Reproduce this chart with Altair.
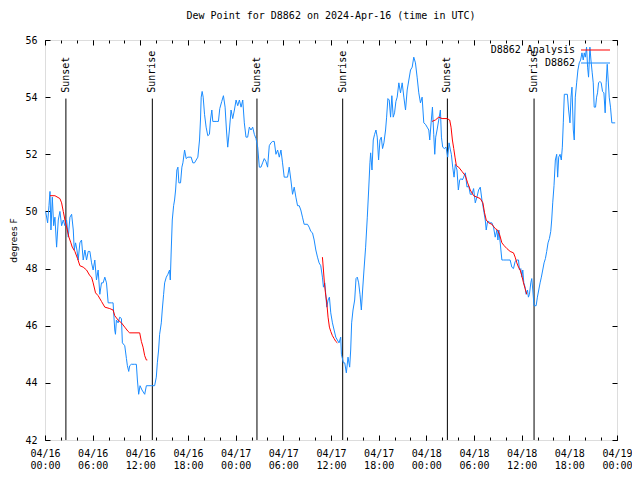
import altair as alt
import pandas as pd

# ---- data (hours since 2024-04-16 00:00 UTC) ----
blue_h = [0.08, 0.33, 0.50, 0.63, 0.75, 0.92, 1.09, 1.25, 1.46, 1.67, 1.88, 2.09, 2.30, 2.51, 2.72,
          2.93, 3.14, 3.35, 3.56, 3.68, 3.85, 4.02, 4.18, 4.39, 4.60, 4.81, 5.02, 5.23, 5.44, 5.65,
          5.86, 6.06, 6.27, 6.48, 6.69, 6.90, 7.11, 7.32, 7.53, 7.74, 7.95, 8.36, 8.57, 8.78, 8.87,
          8.99, 9.20, 9.41, 9.62, 9.74, 10.04, 10.25, 10.37, 10.54, 10.66, 10.87, 11.29, 11.50, 11.63,
          11.79, 11.96, 12.21, 12.55, 12.76, 12.97, 13.38, 13.80, 14.01, 14.14, 14.30, 14.43, 14.64,
          14.76, 14.93, 15.06, 15.27, 15.47, 15.68, 15.77, 15.89, 16.02, 16.19, 16.31, 16.44, 16.60,
          16.73, 16.85, 17.06, 17.23, 17.36, 17.57, 17.77, 17.98, 18.40, 18.61, 18.82, 19.03, 19.24,
          19.45, 19.57, 19.66, 19.78, 19.91, 20.08, 20.28, 20.49, 20.70, 20.83, 21.00, 21.12, 21.54,
          21.83, 22.00, 22.25, 22.46, 22.67, 22.84, 23.00, 23.21, 23.42, 23.63, 23.84, 24.05, 24.26,
          24.47, 24.68, 24.89, 25.09, 25.30, 25.51, 25.72, 25.93, 26.14, 26.35, 26.56, 26.77, 26.98,
          27.19, 27.39, 27.60, 27.81, 28.02, 28.23, 28.44, 28.65, 28.86, 29.07, 29.28, 29.49, 29.70,
          29.90, 30.11, 30.53, 30.74, 30.95, 31.16, 31.37, 31.58, 31.79, 32.00, 32.20, 32.41, 32.62,
          33.04, 33.25, 33.46, 33.67, 33.88, 34.09, 34.30, 34.50, 34.71, 34.92, 35.05, 35.22, 35.34,
          35.47, 35.63, 35.80, 35.97, 36.18, 36.39, 36.60, 36.80, 37.01, 37.22, 37.31, 37.56, 37.73,
          37.93, 38.14, 38.35, 38.48, 38.60, 38.77, 38.98, 39.15, 39.31, 39.48, 39.65, 39.82, 39.98,
          40.15, 40.36, 40.57, 40.74, 40.90, 40.99, 41.16, 41.32, 41.49, 41.66, 41.82, 41.99, 42.16,
          42.33, 42.49, 42.66, 42.87, 43.00, 43.16, 43.33, 43.50, 43.66, 43.83, 44.00, 44.17, 44.33,
          44.54, 44.75, 44.96, 45.17, 45.38, 45.59, 45.80, 46.01, 46.22, 46.42, 46.63, 46.84, 47.05,
          47.26, 47.47, 47.68, 47.89, 48.10, 48.31, 48.43, 48.60, 48.77, 48.93, 49.06, 49.18, 49.35,
          49.56, 49.77, 49.90, 50.06, 50.27, 50.48, 50.69, 50.86, 51.03, 51.15, 51.32, 51.49, 51.65,
          51.86, 52.03, 52.20, 52.36, 52.53, 52.70, 52.91, 53.12, 53.33, 53.53, 53.74, 53.95, 54.16,
          54.37, 54.58, 54.79, 55.00, 55.21, 55.42, 55.54, 55.71, 55.88, 56.04, 56.25, 56.46, 56.67,
          56.88, 57.01, 57.13, 57.30, 57.51, 57.72, 58.14, 58.55, 58.76, 58.97, 59.18, 59.39, 59.60,
          59.72, 59.89, 60.02, 60.14, 60.27, 60.43, 60.56, 60.73, 60.85, 60.98, 61.15, 61.27, 61.40,
          61.56, 61.82, 61.98, 62.15, 62.32, 62.48, 62.65, 62.82, 62.99, 63.15, 63.32, 63.49, 63.66,
          63.78, 63.91, 64.07, 64.24, 64.41, 64.53, 64.66, 64.83, 64.99, 65.12, 65.24, 65.37, 65.58,
          65.75, 65.91, 66.08, 66.21, 66.33, 66.50, 66.62, 66.75, 66.92, 67.08, 67.25, 67.42, 67.59,
          67.75, 67.88, 68.01, 68.17, 68.30, 68.42, 68.59, 68.72, 68.88, 69.01, 69.13, 69.30, 69.43,
          69.55, 69.68, 69.85, 70.01, 70.18, 70.35, 70.51, 70.64, 70.77, 70.89, 71.02, 71.18, 71.35,
          71.77]
blue_v = [50.0, 49.6, 50.2, 50.7, 49.35, 50.5, 49.5, 49.8, 48.75, 49.7, 50.0, 49.5, 49.7, 49.5, 49.7,
          49.1, 49.8, 49.9, 49.35, 48.65, 48.9, 48.65, 48.3, 48.9, 49.0, 48.3, 48.65, 48.3, 48.6, 48.6,
          48.2, 47.95, 48.3, 47.6, 47.95, 47.1, 47.5, 47.5, 47.7, 47.5, 46.8, 46.8, 46.8, 45.85, 45.7,
          46.2, 46.1, 46.3, 46.25, 45.4, 45.3, 44.85, 44.6, 44.4, 44.6, 44.65, 44.65, 44.65, 44.1,
          43.6, 43.9, 43.75, 43.6, 43.9, 43.9, 43.9, 43.9, 44.2, 44.7, 45.15, 45.7, 46.1,
          46.55, 47.1, 47.5, 47.7, 47.8, 47.95, 47.6, 48.65, 49.7, 50.2, 50.4, 50.75, 51.45,
          51.55, 51.0, 51.0, 51.55, 51.7, 52.15, 51.85, 51.9, 51.9, 51.7, 51.7, 51.8, 51.9,
          52.5, 53.2, 54.0, 54.2, 54.0, 53.4, 52.95, 52.65, 52.7, 53.2, 53.55, 53.15, 53.15,
          53.15, 53.6, 53.85, 54.05, 53.65, 52.85, 52.25, 52.85, 53.55, 53.25, 53.55, 53.9, 53.7,
          53.9, 53.65, 53.9, 53.1, 52.6, 52.6, 52.95, 52.85, 52.95, 52.7, 52.55, 52.25, 51.55,
          51.55, 51.7, 51.85, 51.75, 51.55, 52.3, 52.4, 52.45, 52.45, 52.0, 52.15, 51.9, 52.15,
          51.7, 51.2, 51.2, 51.55, 51.1, 50.6, 50.85, 50.5, 50.2, 50.2, 50.05, 49.8, 49.55,
          49.55, 49.45, 49.3, 49.25, 49.0, 48.65, 48.4, 48.2, 48.1, 47.7, 47.35, 47.5, 47.1,
          46.65, 46.9, 47.0, 46.45, 46.1, 45.85, 45.6, 45.5, 45.4, 45.6, 45.0, 44.7, 44.7,
          44.35, 44.9, 44.55, 45.15, 46.1, 46.55, 46.9, 47.65, 47.7, 47.5, 47.1, 46.55, 47.25,
          47.95, 48.75, 49.8, 50.75, 51.7, 52.05, 51.45, 52.5, 52.7, 52.85, 52.6, 51.8, 52.5,
          52.6, 52.2, 52.4, 52.85, 53.3, 53.95, 53.9, 53.3, 54.05, 53.3, 53.45, 53.85, 54.0,
          54.5, 54.15, 54.5, 54.0, 53.55, 54.25, 54.6, 54.95, 55.05, 55.4, 55.2, 54.7, 54.15,
          53.8, 54.0, 53.1, 53.05, 52.95, 52.85, 52.5, 53.1, 53.65, 52.7, 52.0, 52.6, 52.85,
          53.2, 53.55, 52.6, 52.25, 52.2, 52.25, 51.9, 52.4, 52.15, 52.0, 51.55, 51.2, 51.65,
          51.45, 50.75, 51.1, 51.15, 51.1, 51.2, 51.35, 50.85, 50.9, 50.6, 50.6, 50.8, 50.3,
          50.5, 50.75, 50.85, 50.4, 50.05, 49.7, 49.35, 49.65, 49.65, 49.6, 49.6, 49.45, 49.1,
          49.35, 49.0, 49.35, 48.9, 48.3, 48.3, 48.3, 48.3, 48.05, 48.0, 48.25, 48.3, 48.3,
          47.95, 48.0, 47.7, 47.95, 47.5, 47.35, 47.1, 47.25, 47.0, 47.1, 47.5, 47.65, 47.25,
          46.7, 46.7, 47.0, 47.25, 47.5, 47.7, 47.95, 48.2, 48.35, 48.6, 48.9, 49.05, 49.3,
          49.7, 50.3, 50.9, 51.8, 52.0, 51.2, 51.9, 52.0, 51.8, 52.25, 53.1, 54.1, 54.1,
          54.1, 53.55, 53.1, 54.0, 54.35, 52.85, 52.5, 54.0, 54.5, 54.95, 55.2, 55.3, 55.55,
          55.3, 55.55, 55.4, 55.75, 55.05, 54.7, 55.75, 55.3, 54.85, 54.5, 53.65, 53.65, 54.0,
          54.15, 54.5, 54.55, 54.5, 54.2, 54.15, 53.45, 54.5, 55.15, 54.6, 54.0, 53.65, 53.1,
          53.1]

red_h = [0.63, 1.25, 1.88, 2.09, 2.30, 2.51, 2.72, 3.01, 3.26, 3.43, 3.76, 4.10, 4.39, 4.81, 5.23,
         5.65, 5.86, 6.06, 6.36, 6.69, 7.11, 7.53, 8.15, 8.57, 8.78, 9.20, 9.62, 10.04, 10.46, 10.66,
         11.92, 12.13, 12.34, 12.55, 12.76, 12.88,
         34.92, 35.05, 35.17, 35.30, 35.47, 35.63, 35.80, 35.97, 36.18, 36.39, 36.60, 36.80,
         48.72, 49.14, 49.56, 49.98, 50.61, 50.94, 51.11, 51.28, 51.45, 51.61, 51.78, 52.07, 52.49,
         52.91, 53.20, 53.53, 53.95, 54.37, 54.79, 55.12, 55.33, 55.54, 55.84, 56.25, 56.67, 56.96,
         57.21, 57.51, 57.80, 58.14, 58.55, 58.97, 59.18, 59.39, 59.60, 59.81, 60.02, 60.23, 60.43,
         60.64]
red_v = [50.55, 50.55, 50.45, 50.3, 50.0, 49.7, 49.45, 49.1, 48.9, 48.75, 48.6, 48.35, 48.1, 48.05, 47.95,
         47.75, 47.7, 47.5, 47.15, 47.05, 46.85, 46.65, 46.6, 46.55, 46.35, 46.2, 46.1, 45.95, 45.8, 45.75,
         45.75, 45.45, 45.25, 44.95, 44.8, 44.8,
         48.4, 47.95, 47.5, 47.15, 46.8, 46.3, 45.95, 45.8, 45.65, 45.55, 45.45, 45.4,
         53.15, 53.2, 53.3, 53.25, 53.25, 53.2, 52.95, 52.5, 52.2, 51.9, 51.6, 51.55, 51.4,
         51.25, 51.0, 50.75, 50.55, 50.5, 50.45, 50.3, 49.95, 49.7, 49.6, 49.55, 49.4, 49.35,
         49.2, 48.9, 48.8, 48.7, 48.6, 48.55, 48.4, 48.2, 48.05, 47.95, 47.75, 47.5, 47.3,
         47.1]
red_seg = [1] * 36 + [2] * 12 + [3] * 40

sun_h = [2.63, 13.51, 26.68, 37.47, 50.65, 61.56]
sun_lbl = ["Sunset", "Sunrise", "Sunset", "Sunrise", "Sunset", "Sunrise"]

title_txt = "Dew Point for D8862 on 2024-Apr-16 (time in UTC)"
y_ticks = [42, 44, 46, 48, 50, 52, 54, 56]
major_h = list(range(0, 73, 6))
minor_h = list(range(0, 73, 2))

# ---- helpers ----
T0 = pd.Timestamp("2024-04-16 00:00", tz="UTC")


def ms(h):
    return int((T0 + pd.Timedelta(hours=h)).value // 10**6)


blue = pd.DataFrame({"t": [ms(h) for h in blue_h], "v": blue_v})
red = pd.DataFrame({"t": [ms(h) for h in red_h], "v": red_v, "seg": red_seg})
sun = pd.DataFrame({"t": [ms(h) for h in sun_h], "lbl": sun_lbl})
leg = pd.DataFrame({"k": [0]})

FONT = "DejaVu Sans Mono"
BLUE = "#1a8cff"
RED = "#ff0000"
W, H = 572, 400

xdom = [ms(0), ms(72)]
xscale = alt.Scale(type="utc", domain=xdom, nice=False)
yscale = alt.Scale(domain=[42, 56], nice=False, zero=False)

base_axis = dict(domain=False, grid=False, tickColor="black", tickWidth=1,
                 labelFont=FONT, labelFontSize=10, labelColor="black")

x_bottom_major = alt.Axis(orient="bottom", values=[ms(h) for h in major_h], tickSize=5, offset=-5,
                          labelExpr="[utcFormat(datum.value, '%m/%d'), utcFormat(datum.value, '%H:%M')]",
                          labelLineHeight=12, labelPadding=8, labelAlign="center", title=None,
                          labelFlush=False, labelOverlap=False, **base_axis)
x_bottom_minor = alt.Axis(orient="bottom", values=[ms(h) for h in minor_h], tickSize=3, offset=-3,
                          labels=False, title=None, **base_axis)
x_top_major = alt.Axis(orient="top", values=[ms(h) for h in major_h], tickSize=5, offset=-5,
                       labels=False, title=None, **base_axis)
x_top_minor = alt.Axis(orient="top", values=[ms(h) for h in minor_h], tickSize=3, offset=-3,
                       labels=False, title=None, **base_axis)
y_left = alt.Axis(orient="left", values=y_ticks, tickSize=5, offset=-5, labelPadding=8,
                  title="degrees F", titleFont="DejaVu Sans", titleFontSize=9,
                  titleFontWeight="normal", titleColor="black", titlePadding=6, **base_axis)
y_right = alt.Axis(orient="right", values=y_ticks, tickSize=5, offset=-5, labels=False,
                   title=None, **base_axis)

blue_line = alt.Chart(blue).mark_line(color=BLUE, strokeWidth=1, interpolate="linear").encode(
    x=alt.X("t:T", scale=xscale, axis=x_bottom_major),
    y=alt.Y("v:Q", scale=yscale, axis=y_left),
)

red_line = alt.Chart(red).mark_line(color=RED, strokeWidth=1).encode(
    x=alt.X("t:T", scale=xscale, axis=x_bottom_minor),
    y=alt.Y("v:Q", scale=yscale, axis=y_right),
    detail="seg:N",
)

sun_rules = alt.Chart(sun).mark_rule(color="black", strokeWidth=1).encode(
    x=alt.X("t:T", scale=xscale, axis=x_top_major),
    y=alt.datum(53.95, scale=yscale, axis=None),
    y2=alt.datum(42),
)

sun_text = alt.Chart(sun).mark_text(font=FONT, fontSize=10, angle=270, align="left",
                                    baseline="middle", color="black").encode(
    x=alt.X("t:T", scale=xscale, axis=x_top_minor),
    y=alt.datum(54.15, scale=yscale, axis=None),
    text="lbl:N",
)

leg_text1 = alt.Chart(leg).mark_text(font=FONT, fontSize=10, align="right", baseline="middle",
                                     color="black").encode(
    x=alt.value(530), y=alt.value(10), text=alt.value("D8862 Analysis"))
leg_text2 = alt.Chart(leg).mark_text(font=FONT, fontSize=10, align="right", baseline="middle",
                                     color="black").encode(
    x=alt.value(530), y=alt.value(23), text=alt.value("D8862"))
leg_rule1 = alt.Chart(leg).mark_rule(color=RED, strokeWidth=1).encode(
    x=alt.value(536), x2=alt.value(565), y=alt.value(10))
leg_rule2 = alt.Chart(leg).mark_rule(color=BLUE, strokeWidth=1).encode(
    x=alt.value(536), x2=alt.value(565), y=alt.value(23))

chart = alt.layer(
    sun_rules, sun_text, blue_line, red_line, leg_rule1, leg_rule2, leg_text1, leg_text2
).resolve_axis(x="independent", y="independent").properties(
    width=W, height=H,
    title=alt.TitleParams(title_txt, font=FONT, fontSize=10, fontWeight="normal", color="black",
                          anchor="middle", offset=14),
    autosize=alt.AutoSizeParams(type="none"),
    padding={"left": 37, "top": 32, "right": 15, "bottom": 32},
).configure_view(stroke="black", strokeWidth=1).configure(background="white")

chart.save("out.html", embed_options={"renderer": "svg", "actions": False})
